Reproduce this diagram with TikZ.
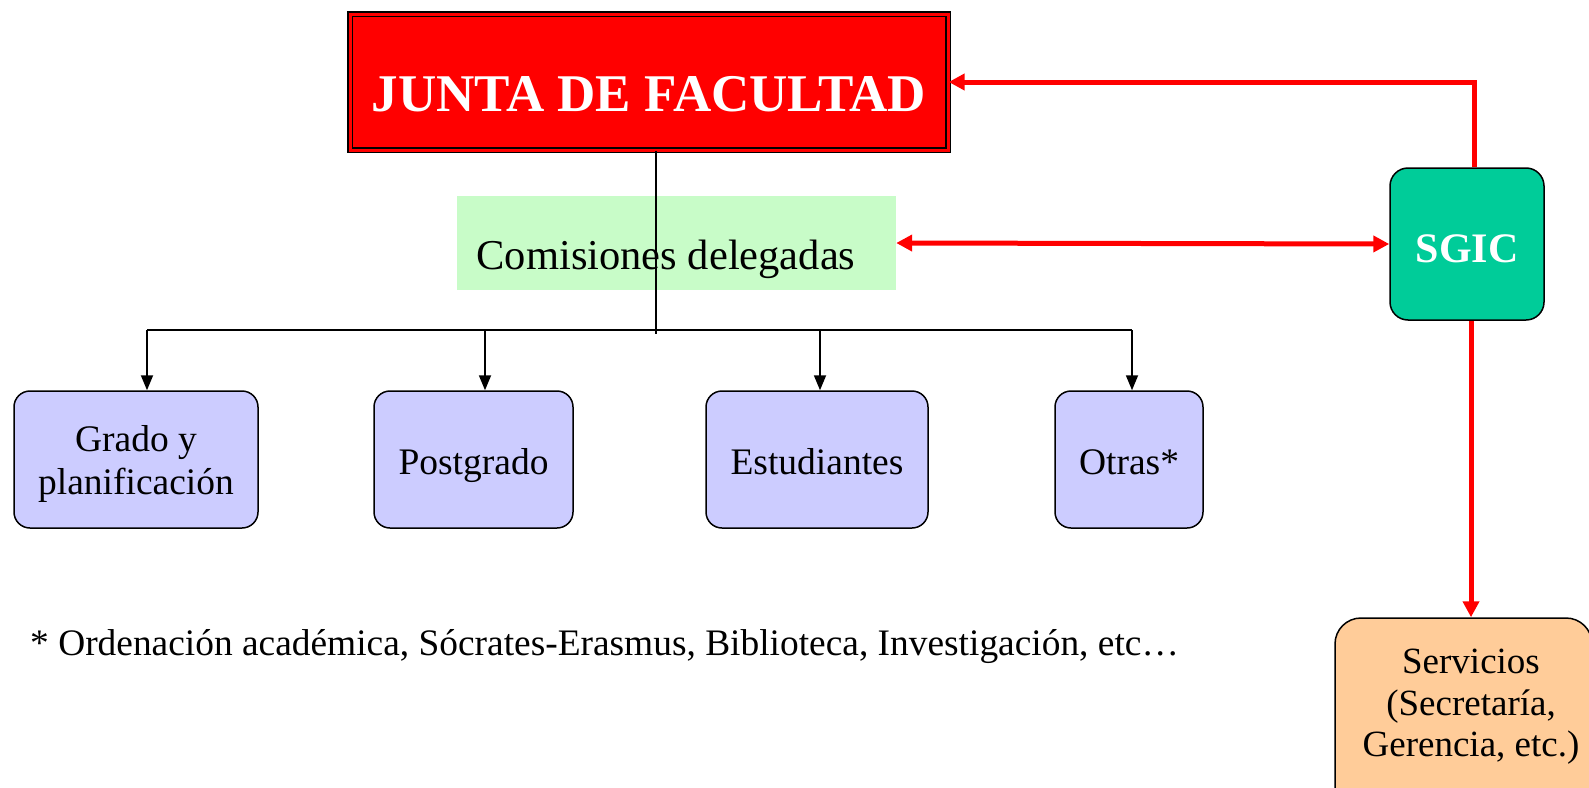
\documentclass[tikz,border=0pt]{standalone}
\usepackage{fontspec}
\setmainfont{Liberation Serif}
\usetikzlibrary{arrows.meta,calc}
\definecolor{jred}{RGB}{255,0,0}
\definecolor{cgreen}{RGB}{200,252,200}
\definecolor{cblue}{RGB}{204,204,255}
\definecolor{sgreen}{RGB}{0,204,153}
\definecolor{sorange}{RGB}{255,204,153}
\tikzset{
  juntabox/.style={draw=black, double=jred, double distance=3pt, line width=1.3pt, fill=jred, minimum width=598, minimum height=136, inner sep=0pt, text=white, text height=58pt, text depth=0pt, font=\fontsize{53}{60}\selectfont\bfseries},
  combox/.style={fill=cgreen, minimum width=439, minimum height=94, inner sep=0pt},
  comtext/.style={inner sep=0pt, font=\fontsize{42.5}{50}\selectfont},
  childbox/.style={draw=black, line width=1.5pt, fill=cblue, rounded corners=16pt, minimum height=137, inner sep=0pt, align=center, font=\fontsize{37.5}{43}\selectfont},
  onelinetext/.style={text height=29pt, text depth=0pt},
  sgicbox/.style={draw=black, line width=1.5pt, fill=sgreen, rounded corners=18pt, minimum width=154, minimum height=152, inner sep=0pt, text=white, text height=37pt, text depth=0pt, font=\fontsize{42}{50}\selectfont\bfseries},
  servbox/.style={draw=black, line width=1.5pt, fill=sorange, rounded corners=26pt, minimum width=257, minimum height=200, inner sep=0pt},
  servtext/.style={inner sep=0pt, align=center, font=\fontsize{37}{41.5}\selectfont},
  blackline/.style={draw=black, line width=1.8pt},
  blackarrow/.style={blackline, -{Triangle[length=15pt,width=12pt]}},
  redline/.style={draw=jred, line width=5pt},
  redarrow/.style={redline, -{Triangle[length=16pt,width=16pt]}},
  redboth/.style={redline, {Triangle[length=16pt,width=16pt]}-{Triangle[length=16pt,width=16pt]}},
  notetext/.style={inner sep=0pt, anchor=west, font=\fontsize{37.4}{44}\selectfont}
}
\begin{document}
\begin{tikzpicture}[x=1pt,y=-1pt]
\useasboundingbox (0,0) rectangle (1589,787);
% boxes
\node[juntabox] (junta) at (649,82) {JUNTA DE FACULTAD};
\node[combox] (com) at (676.5,243) {};
\node[childbox, text depth=0pt, minimum width=244] (grado) at (136,459.5) {Grado y\\planificación};
\node[childbox, onelinetext, minimum width=199] (post) at (473.5,459.5) {Postgrado};
\node[childbox, onelinetext, minimum width=222] (estu) at (817,459.5) {Estudiantes};
\node[childbox, onelinetext, minimum width=148] (otras) at (1129,459.5) {Otras*};
\node[sgicbox] (sgic) at (1467,244) {SGIC};
\node[servbox] (serv) at (1463.5,718) {};
\node[servtext] (servt) at (1471,707) {Servicios\\(Secretaría,\\Gerencia, etc.)};
\node[notetext] (note) at (30,647) {* Ordenación académica, Sócrates-Erasmus, Biblioteca, Investigación, etc…};
% tree
\coordinate (jdown) at ($(junta.south)+(7,0)$);
\coordinate (busc) at (656,334);
\coordinate (b1) at (147,330);
\coordinate (b2) at (485,330);
\coordinate (b3) at (820,330);
\coordinate (b4) at (1132,330);
\draw[blackline] (jdown) -- (busc);
\node[comtext] (comt) at (666,259) {Comisiones delegadas};
\draw[blackline] (b1) -- (b4);
\draw[blackarrow] (b1) -- (b1 |- grado.north);
\draw[blackarrow] (b2) -- (b2 |- post.north);
\draw[blackarrow] (b3) -- (b3 |- estu.north);
\draw[blackarrow] (b4) -- (b4 |- otras.north);
% red connectors
\coordinate (sup) at ($(sgic.north)+(7,0)$);
\draw[redarrow] (sup) |- (junta.east);
\draw[redboth] (com.east) -- (sgic.west);
\draw[redarrow] (sgic.south -| servt) -- (servt |- serv.north);
\end{tikzpicture}
\end{document}
